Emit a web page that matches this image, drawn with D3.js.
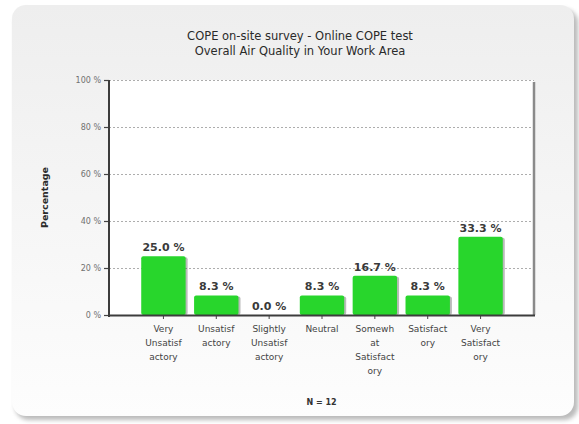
<!DOCTYPE html>
<html>
<head>
<meta charset="utf-8">
<script src="https://cdn.jsdelivr.net/npm/d3@7/dist/d3.min.js"></script>
<style>
  html, body { margin: 0; padding: 0; background: #ffffff; }
  svg { display: block; }
  text { font-family: "DejaVu Sans", Verdana, sans-serif; }
</style>
</head>
<body>
<svg id="chart" width="579" height="424"></svg>
<script>
// Survey answers and their share of respondents (%)
const categories = [
  "Very Unsatisfactory", "Unsatisfactory", "Slightly Unsatisfactory",
  "Neutral", "Somewhat Satisfactory", "Satisfactory", "Very Satisfactory"
];
const values = [25.0, 8.3, 0.0, 8.3, 16.7, 8.3, 33.3];
// Wrapped tick labels as printed under each bar
const tickLines = [
  ["Very", "Unsatisf", "actory"],
  ["Unsatisf", "actory"],
  ["Slightly", "Unsatisf", "actory"],
  ["Neutral"],
  ["Somewh", "at", "Satisfact", "ory"],
  ["Satisfact", "ory"],
  ["Very", "Satisfact", "ory"]
];
const yTicks = [0, 20, 40, 60, 80, 100];
const titleLines = ["COPE on-site survey - Online COPE test", "Overall Air Quality in Your Work Area"];
const yTitle = "Percentage";
const footnote = "N = 12";

const svg = d3.select("#chart");
const defs = svg.append("defs");

// Panel background: soft vertical gradient with a drop shadow
const grad = defs.append("linearGradient").attr("id", "panelGrad")
  .attr("x1", 0).attr("y1", 0).attr("x2", 0).attr("y2", 1);
grad.append("stop").attr("offset", "0%").attr("stop-color", "#eeeeee");
grad.append("stop").attr("offset", "100%").attr("stop-color", "#fdfdfd");

const shadow = defs.append("filter").attr("id", "blur")
  .attr("x", "-5%").attr("y", "-5%").attr("width", "110%").attr("height", "110%");
shadow.append("feGaussianBlur").attr("stdDeviation", 2);

svg.append("rect")
  .attr("x", 15).attr("y", 9).attr("width", 563).attr("height", 411)
  .attr("rx", 14).attr("fill", "#8f8f8f").attr("opacity", 0.6)
  .attr("filter", "url(#blur)");
svg.append("rect")
  .attr("x", 12).attr("y", 5).attr("width", 562).attr("height", 411)
  .attr("rx", 14).attr("fill", "url(#panelGrad)");

// Plot geometry
const plot = { left: 109, right: 534, top: 80, bottom: 315 };

const x = d3.scaleBand()
  .domain(categories)
  .range([137, 507])
  .paddingInner(0.16)
  .paddingOuter(0.08);

const y = d3.scaleLinear()
  .domain([0, 100])
  .range([plot.bottom, plot.top]);

// White plotting area
svg.append("rect")
  .attr("x", plot.left).attr("y", plot.top)
  .attr("width", plot.right - plot.left).attr("height", plot.bottom - plot.top)
  .attr("fill", "#ffffff");

// Dotted grid lines
svg.append("g")
  .selectAll("line")
  .data(yTicks.filter(d => d > 0))
  .join("line")
  .attr("x1", plot.left).attr("x2", plot.right)
  .attr("y1", d => y(d) + 0.5).attr("y2", d => y(d) + 0.5)
  .attr("stroke", "#adadad")
  .attr("stroke-width", 1)
  .attr("stroke-dasharray", "2,2");

// Right frame edge
svg.append("line")
  .attr("x1", plot.right).attr("x2", plot.right)
  .attr("y1", plot.top + 2).attr("y2", plot.bottom)
  .attr("stroke", "#8a8a8a").attr("stroke-width", 2.5);

// Bars with a faint shadow
const barG = svg.append("g");
barG.selectAll("rect.shadow")
  .data(values)
  .join("rect")
  .attr("class", "shadow")
  .attr("x", (d, i) => x(categories[i]) + 2)
  .attr("y", d => y(d) + 1)
  .attr("width", x.bandwidth())
  .attr("height", d => Math.max(0, y(0) - y(d) - 1))
  .attr("rx", 2)
  .attr("fill", "#3a3a3a").attr("opacity", 0.35);

barG.selectAll("rect.bar")
  .data(values)
  .join("rect")
  .attr("class", "bar")
  .attr("x", (d, i) => x(categories[i]))
  .attr("y", d => y(d))
  .attr("width", x.bandwidth())
  .attr("height", d => y(0) - y(d))
  .attr("rx", 2)
  .attr("fill", "#28d62c");

// Value labels
svg.append("g")
  .selectAll("text")
  .data(values)
  .join("text")
  .attr("x", (d, i) => x(categories[i]) + x.bandwidth() / 2)
  .attr("y", d => y(d) - 5)
  .attr("text-anchor", "middle")
  .attr("font-size", 11)
  .attr("font-weight", "bold")
  .attr("fill", "#3a3a3a")
  .text(d => d.toFixed(1) + " %");

// Y axis
const yAxis = svg.append("g")
  .attr("transform", `translate(${plot.left},0)`)
  .call(d3.axisLeft(y).tickValues(yTicks).tickSize(5).tickPadding(3).tickFormat(d => d + " %"));
yAxis.select(".domain").remove();
yAxis.selectAll(".tick line").attr("stroke", "#444").attr("stroke-width", 1.2);
yAxis.selectAll(".tick text")
  .attr("font-size", 8).attr("fill", "#707070")
  .style("font-family", "'DejaVu Sans', Verdana, sans-serif");
svg.append("line")
  .attr("x1", plot.left).attr("x2", plot.left)
  .attr("y1", plot.top).attr("y2", plot.bottom + 2)
  .attr("stroke", "#3c3c3c").attr("stroke-width", 2);

// X axis
const xAxis = svg.append("g")
  .attr("transform", `translate(0,${plot.bottom})`)
  .call(d3.axisBottom(x).tickSize(4).tickFormat(""));
xAxis.select(".domain").remove();
xAxis.selectAll(".tick line").attr("stroke", "#444").attr("stroke-width", 1);
svg.append("line")
  .attr("x1", plot.left - 1).attr("x2", plot.right + 1)
  .attr("y1", plot.bottom + 0.5).attr("y2", plot.bottom + 0.5)
  .attr("stroke", "#3c3c3c").attr("stroke-width", 2);

// Wrapped category labels
svg.append("g")
  .selectAll("text")
  .data(categories)
  .join("text")
  .attr("x", d => x(d) + x.bandwidth() / 2)
  .attr("y", 332)
  .attr("text-anchor", "middle")
  .attr("font-size", 9)
  .attr("fill", "#444")
  .each(function (d, i) {
    d3.select(this).selectAll("tspan")
      .data(tickLines[i])
      .join("tspan")
      .attr("x", x(d) + x.bandwidth() / 2)
      .attr("dy", (t, j) => j === 0 ? 0 : 14)
      .text(t => t);
  });

// Title
svg.append("g")
  .selectAll("text")
  .data(titleLines)
  .join("text")
  .attr("x", 300)
  .attr("y", (d, i) => 40 + i * 15)
  .attr("text-anchor", "middle")
  .attr("font-size", 11.5)
  .attr("fill", "#2a2a2a")
  .text(d => d);

// Y axis title
svg.append("text")
  .attr("transform", `translate(48,${(plot.top + plot.bottom) / 2}) rotate(-90)`)
  .attr("text-anchor", "middle")
  .attr("font-size", 9.5)
  .attr("font-weight", "bold")
  .attr("fill", "#2a2a2a")
  .text(yTitle);

// Respondent count
svg.append("text")
  .attr("x", (plot.left + plot.right) / 2)
  .attr("y", 405)
  .attr("text-anchor", "middle")
  .attr("font-size", 8)
  .attr("font-weight", "bold")
  .attr("fill", "#333")
  .text(footnote);
</script>
</body>
</html>
